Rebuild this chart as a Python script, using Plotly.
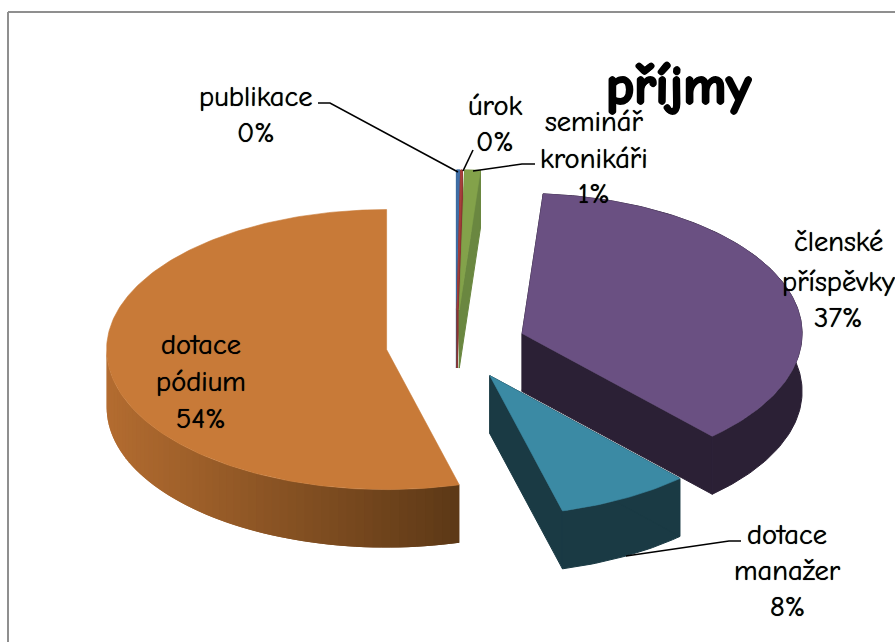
import math
import plotly.graph_objects as go

# ---------- data ----------
categories = ["publikace", "úrok", "seminář kronikáři", "členské příspěvky", "dotace manažer", "dotace pódium"]
values = [0.2, 0.1, 0.9, 36.9, 7.7, 54.15]
title_text = "příjmy"

# ---------- styles ----------
top_colors = ["#3f6ea6", "#a8403c", "#83a24a", "#6a5082", "#3b8aa4", "#c87a38"]
wall_colors = ["#35608f", "#8c3532", "#6a8740", "#2b2035", "#1a3a44", "#5c3816"]
W, H = 895, 642
CX, CY, RX, RY, DEPTH, EXPLODE = 456, 345, 280, 140, 58, 70 / 280
FONT = "'Comic Sans MS', 'Comic Neue', Lato, sans-serif"
LABEL_SIZE = 28.5
LABEL_SHADOW = "0 0 0.7px #000000"
TITLE_SHADOW = "1.2px 0 0 #000000, -1.2px 0 0 #000000, 0 1.2px 0 #000000, 0 -1.2px 0 #000000"


def xval(px):
    return (px - CX) / RX


def yval(py):
    return (CY - py) / RY


fig = go.Figure()
depth = DEPTH / RY


def poly(xs, ys, color, name, width=1.0):
    fig.add_trace(go.Scatter(x=xs, y=ys, mode="lines", fill="toself", fillcolor=color,
                             line=dict(color=color, width=width), name=name,
                             showlegend=False, hoverinfo="skip"))


def lerp(c1, c2, t):
    a = [int(c1[i:i + 2], 16) for i in (1, 3, 5)]
    b = [int(c2[i:i + 2], 16) for i in (1, 3, 5)]
    return "rgb(%d,%d,%d)" % tuple(round(p + (q - p) * t) for p, q in zip(a, b))


total = sum(values)
slices = []
angle = 0.0
for name, val, top, wall in zip(categories, values, top_colors, wall_colors):
    span = 360.0 * val / total
    start, end = angle, angle + span
    mid = math.radians((start + end) / 2)
    ox, oy = EXPLODE * math.sin(mid), EXPLODE * math.cos(mid)
    slices.append((name, start, end, ox, oy, top, wall))
    angle = end


def arc(start, end, ox, oy, step=1.0):
    n = max(2, int(abs(end - start) / step) + 1)
    angs = [math.radians(start + (end - start) * i / (n - 1)) for i in range(n)]
    return [ox + math.sin(a) for a in angs], [oy + math.cos(a) for a in angs]


for name, start, end, ox, oy, top, wall in slices:
    xs, ys = arc(start, end, ox, oy)
    # outer rim
    if name == categories[-1]:
        # graded rim of the large slice: light on the left, dark on the right.
        # Painted from the left, each band reaching one band further under the next.
        a0, a1 = start, min(end, 272.0)
        steps = 60
        for i in reversed(range(steps)):
            s0 = a0 + (a1 - a0) * max(0, i - 1) / steps
            s1 = a0 + (a1 - a0) * (i + 1) / steps
            rx, ry = arc(a0 + (a1 - a0) * i / steps, s1, ox, oy, 0.5)
            px = (max(rx) + min(rx)) / 2 * RX + CX
            frac = min(1, max(0, (px - 107) / (460 - 107)))
            bx, by = arc(s0, s1, ox, oy, 0.5)
            poly(bx + bx[::-1], by + [v - depth for v in by[::-1]],
                 lerp("#b36c30", "#5c3816", frac), name, 0)
    else:
        poly(xs + xs[::-1], ys + [v - depth for v in ys[::-1]], wall, name)
    # cut faces
    for a in (start, end):
        ex, ey = ox + math.sin(math.radians(a)), oy + math.cos(math.radians(a))
        if name != categories[-1]:
            poly([ox, ex, ex, ox, ox], [oy, ey, ey - depth, oy - depth, oy], wall, name)
    # top face
    poly([ox] + xs + [ox], [oy] + ys + [oy], top, name, 0.6)

# ---------- labels ----------
percent = [f"{round(v / total * 100)}%" for v in values]
label_lines = [
    (["publikace", percent[0]], 256, [96, 132]),
    (["úrok", percent[1]], 495, [105, 141]),
    (["seminář", "kronikáři", percent[2]], 594, [121, 158, 193]),
    (["členské", "příspěvky", percent[3]], 838, [241, 281, 317]),
    (["dotace", "manažer", percent[4]], 787, [534, 570, 606]),
    (["dotace", "pódium", percent[5]], 201, [344, 381, 418]),
]
annotations = []
for lines, px, pys in label_lines:
    for txt, py in zip(lines, pys):
        annotations.append(dict(x=xval(px), y=yval(py), text=txt, showarrow=False,
                                xanchor="center", yanchor="middle",
                                font=dict(family=FONT, size=LABEL_SIZE, color="#000000",
                                          shadow=LABEL_SHADOW)))
annotations.append(dict(x=xval(678), y=yval(86), text=f"<b>{title_text}</b>", showarrow=False,
                        xanchor="center", yanchor="middle",
                        font=dict(family=FONT, size=54, color="#000000", shadow=TITLE_SHADOW)))

# ---------- leader lines (pixel layout) ----------
leaders = [
    [(318, 103), (330, 103), (458, 172)],
    [(473, 150), (463, 171)],
    [(473, 171), (522, 164), (535, 164)],
    [(626, 556), (729, 541), (741, 541)],
]
for pts in leaders:
    fig.add_trace(go.Scatter(x=[xval(p[0]) for p in pts], y=[yval(p[1]) for p in pts],
                             mode="lines", line=dict(color="#000000", width=1.6),
                             showlegend=False, hoverinfo="skip"))

# frame
frame = [
    dict(type="line", xref="paper", yref="paper", x0=8 / W, x1=8 / W, y0=0, y1=1 - 12 / H,
         line=dict(color="#8f8f8f", width=2)),
    dict(type="line", xref="paper", yref="paper", x0=8 / W, x1=1, y0=1 - 12 / H, y1=1 - 12 / H,
         line=dict(color="#8f8f8f", width=2)),
]

fig.update_layout(
    width=W, height=H, autosize=False,
    margin=dict(l=0, r=0, t=0, b=0),
    paper_bgcolor="#ffffff", plot_bgcolor="#ffffff",
    showlegend=False, annotations=annotations, shapes=frame,
    xaxis=dict(range=[xval(0), xval(W)], visible=False, fixedrange=True),
    yaxis=dict(range=[yval(H), yval(0)], visible=False, fixedrange=True),
)
fig.write_html("out.html", config=dict(displayModeBar=False),
               post_script="document.body.style.margin='0';document.documentElement.style.overflow='hidden';")
